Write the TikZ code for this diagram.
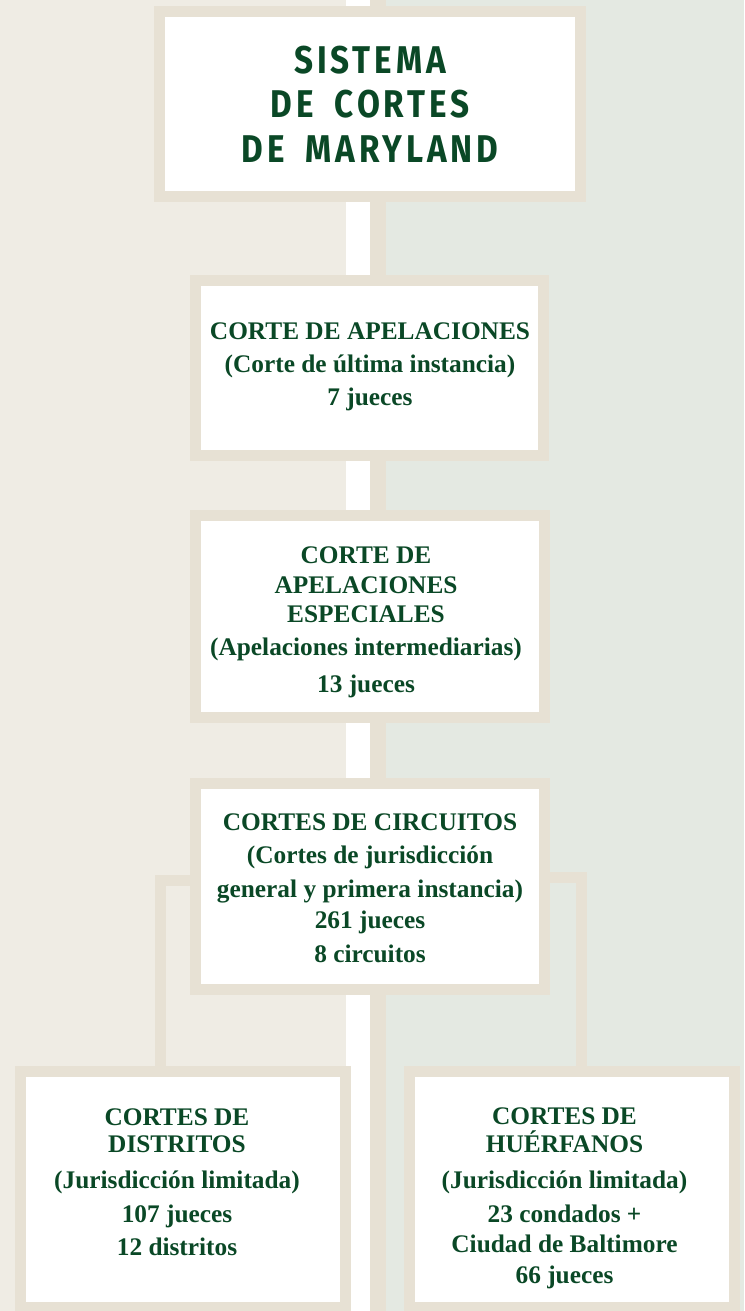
\documentclass[tikz,border=0pt]{standalone}
\usepackage{fontspec}
\setmainfont{Liberation Serif}
\newfontfamily\titlefont[LetterSpace=10,FakeStretch=0.86,WordSpace=1.8]{Fira Sans}
\definecolor{bgL}{RGB}{239,236,228}
\definecolor{bgR}{RGB}{228,233,226}
\definecolor{frame}{RGB}{231,225,212}
\definecolor{ink}{RGB}{10,72,38}
\newcommand\pxu{0.75pt}
\pgfdeclarelayer{back}
\pgfdeclarelayer{conn}
\pgfsetlayers{back,conn,main}
\tikzset{
  box/.style={draw=frame, line width=11*\pxu, fill=white, inner sep=0pt, line join=miter},
  vline/.style={draw=frame, line width=16*\pxu},
  sconn/.style={draw=frame, line width=11*\pxu, line join=miter},
  txt/.style={anchor=base, inner sep=0pt, text=ink, font=\bfseries\fontsize{19}{22}\selectfont},
  ttl/.style={anchor=base, inner sep=0pt, text=ink, font=\titlefont\bfseries\fontsize{29}{32}\selectfont}
}
\begin{document}
\begin{tikzpicture}[x=0.75pt,y=-0.75pt]
\useasboundingbox (0,0) rectangle (744,1311);
\begin{pgfonlayer}{back}
  \fill[bgL] (0,0) rectangle (346,1311);
  \fill[white] (346,0) rectangle (370,1311);
  \fill[bgR] (370,0) rectangle (744,1311);
\end{pgfonlayer}

% boxes
\node[box, minimum width=421*\pxu, minimum height=185*\pxu] (b1) at (370,104) {};
\node[box, minimum width=348*\pxu, minimum height=175.5*\pxu] (b2) at (369.5,367.75) {};
\node[box, minimum width=349*\pxu, minimum height=202*\pxu] (b3) at (370,616.5) {};
\node[box, minimum width=349*\pxu, minimum height=205.5*\pxu] (b4) at (370,886.25) {};
\node[box, minimum width=325.5*\pxu, minimum height=236*\pxu] (b5) at (182.75,1189.5) {};
\node[box, minimum width=325*\pxu, minimum height=236*\pxu] (b6) at (571.5,1189.5) {};

% connectors
\coordinate (top) at (378,0);
\coordinate (bot) at (378,1311);
\coordinate (lj) at (160.5,880);
\coordinate (rj) at (581.5,877);
\begin{pgfonlayer}{conn}
  \draw[vline] (top) -- (b1.north -| top);
  \draw[vline] (b1.south -| top) -- (b2.north -| top);
  \draw[vline] (b2.south -| top) -- (b3.north -| top);
  \draw[vline] (b3.south -| top) -- (b4.north -| top);
  \draw[vline] (b4.south -| top) -- (bot);
  \draw[sconn] (b4.west |- lj) -| (b5.north -| lj);
  \draw[sconn] (b4.east |- rj) -| (b6.north -| rj);
\end{pgfonlayer}

% texts
\node[ttl] (t1a) at (370,73) {SISTEMA};
\node[ttl] (t1b) at (370,117) {DE CORTES};
\node[ttl] (t1c) at (370,162) {DE MARYLAND};

\node[txt] (t2a) at (370,339) {CORTE DE APELACIONES};
\node[txt] (t2b) at (370,372) {(Corte de última instancia)};
\node[txt] (t2c) at (370,405) {7 jueces};

\node[txt] (t3a) at (366,563) {CORTE DE};
\node[txt] (t3b) at (366,593) {APELACIONES};
\node[txt] (t3c) at (366,622) {ESPECIALES};
\node[txt] (t3d) at (366,655) {(Apelaciones intermediarias)};
\node[txt] (t3e) at (366,692) {13 jueces};

\node[txt] (t4a) at (370,830) {CORTES DE CIRCUITOS};
\node[txt] (t4b) at (370,863) {(Cortes de jurisdicción};
\node[txt] (t4c) at (370,897) {general y primera instancia)};
\node[txt] (t4d) at (370,928) {261 jueces};
\node[txt] (t4e) at (370,962) {8 circuitos};

\node[txt] (t5a) at (177,1125) {CORTES DE};
\node[txt] (t5b) at (177,1152) {DISTRITOS};
\node[txt] (t5c) at (177,1188) {(Jurisdicción limitada)};
\node[txt] (t5d) at (177,1222) {107 jueces};
\node[txt] (t5e) at (177,1255) {12 distritos};

\node[txt] (t6a) at (564.5,1124) {CORTES DE};
\node[txt] (t6b) at (564.5,1152) {HUÉRFANOS};
\node[txt] (t6c) at (564.5,1188) {(Jurisdicción limitada)};
\node[txt] (t6d) at (564.5,1222) {23 condados +};
\node[txt] (t6e) at (564.5,1252) {Ciudad de Baltimore};
\node[txt] (t6f) at (564.5,1283) {66 jueces};
\end{tikzpicture}
\end{document}
